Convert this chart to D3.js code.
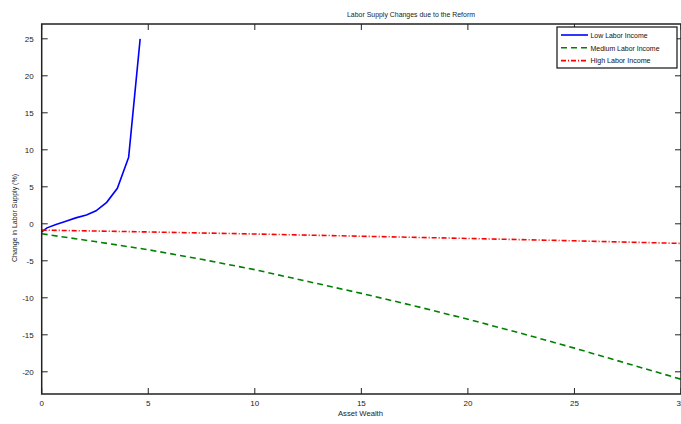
<!DOCTYPE html>
<html>
<head>
<meta charset="utf-8">
<script src="https://cdn.jsdelivr.net/npm/d3@7.9.0/dist/d3.min.js"></script>
<style>
  body { margin: 0; background: #fff; }
  svg { display: block; font-family: "Liberation Sans", Arial, sans-serif; }
</style>
</head>
<body>
<svg id="chart" width="681" height="424"></svg>
<script>
// Data
const lowX = [0, 0.25, 0.67, 1.1, 1.6, 2.1, 2.55, 3.05, 3.55, 4.08, 4.62];
const lowY = [-1.1, -0.55, -0.1, 0.3, 0.8, 1.2, 1.75, 2.9, 4.8, 9.0, 25];

const medX = [0, 2.5, 5, 7.5, 10, 12.5, 15, 17.5, 20, 22.5, 25, 27.5, 30];
const medY = [-1.35, -2.4, -3.5, -4.8, -6.2, -7.8, -9.4, -11.1, -12.9, -14.8, -16.8, -18.9, -21.0];

const highX = [0, 5, 10, 15, 20, 25, 30];
const highY = [-0.85, -1.1, -1.38, -1.68, -1.98, -2.3, -2.65];

const xTicks = [0, 5, 10, 15, 20, 25, 30];
const yTicks = [-20, -15, -10, -5, 0, 5, 10, 15, 20, 25];

const seriesNames = ['Low Labor Income', 'Medium Labor Income', 'High Labor Income'];
const seriesColors = ['#0000ff', '#008000', '#ff0000'];
const seriesDash = [null, '6,4', '5,2,1,2'];

const series = [
  lowX.map((x, i) => [x, lowY[i]]),
  medX.map((x, i) => [x, medY[i]]),
  highX.map((x, i) => [x, highY[i]]),
];

const svg = d3.select('#chart');
const plotLeft = 41.7, plotRight = 681, plotTop = 24, plotBottom = 394;

const x = d3.scaleLinear().domain([0, 30]).range([plotLeft, plotRight]);
const y = d3.scaleLinear().domain([-23, 27]).range([plotBottom, plotTop]);

const axisColor = '#222';
const tickLen = 6;

// lines
const line = d3.line().x(d => x(d[0])).y(d => y(d[1]));
series.forEach((s, i) => {
  svg.append('path')
    .attr('d', line(s))
    .attr('fill', 'none')
    .attr('stroke', seriesColors[i])
    .attr('stroke-width', 1.6)
    .attr('stroke-dasharray', seriesDash[i]);
});

// box
svg.append('rect')
  .attr('x', plotLeft).attr('y', plotTop)
  .attr('width', plotRight - plotLeft).attr('height', plotBottom - plotTop)
  .attr('fill', 'none').attr('stroke', axisColor).attr('stroke-width', 1.5);

// ticks on all four sides (MATLAB style, pointing inward)
const g = svg.append('g').attr('stroke', axisColor).attr('stroke-width', 1);
xTicks.forEach(t => {
  g.append('line').attr('x1', x(t)).attr('x2', x(t)).attr('y1', plotBottom).attr('y2', plotBottom - tickLen);
  g.append('line').attr('x1', x(t)).attr('x2', x(t)).attr('y1', plotTop).attr('y2', plotTop + tickLen);
});
yTicks.forEach(t => {
  g.append('line').attr('x1', plotLeft).attr('x2', plotLeft + tickLen).attr('y1', y(t)).attr('y2', y(t));
  g.append('line').attr('x1', plotRight).attr('x2', plotRight - tickLen).attr('y1', y(t)).attr('y2', y(t));
});

// tick labels
svg.append('g').selectAll('text').data(xTicks).join('text')
  .attr('x', d => x(d)).attr('y', 406)
  .attr('text-anchor', 'middle')
  .attr('font-size', 8).attr('fill', '#222')
  .text(d => d);

svg.append('g').selectAll('text').data(yTicks).join('text')
  .attr('x', plotLeft - 8).attr('y', d => y(d) + 3)
  .attr('text-anchor', 'end')
  .attr('font-size', 8).attr('fill', '#222')
  .text(d => d);

// title and axis labels
svg.append('text')
  .attr('x', 347).attr('y', 17)
  .attr('font-size', 8).attr('fill', '#222')
  .attr('textLength', 128).attr('lengthAdjust', 'spacingAndGlyphs')
  .text('Labor Supply Changes due to the Reform');

svg.append('text')
  .attr('x', 338).attr('y', 416)
  .attr('font-size', 8).attr('fill', '#222')
  .attr('textLength', 45).attr('lengthAdjust', 'spacingAndGlyphs')
  .text('Asset Wealth');

svg.append('text')
  .attr('transform', 'translate(17,262) rotate(-90)')
  .attr('font-size', 8).attr('fill', '#222')
  .attr('textLength', 88).attr('lengthAdjust', 'spacingAndGlyphs')
  .text('Change in Labor Supply (%)');

// legend
const legend = svg.append('g');
legend.append('rect')
  .attr('x', 557).attr('y', 27).attr('width', 120).attr('height', 41)
  .attr('fill', '#fff').attr('stroke', '#111').attr('stroke-width', 1.2);

const legendWidths = [57, 69, 60];
seriesNames.forEach((name, i) => {
  const ly = 35 + i * 12.8;
  legend.append('line')
    .attr('x1', 561).attr('x2', 588).attr('y1', ly).attr('y2', ly)
    .attr('stroke', seriesColors[i]).attr('stroke-width', 1.6)
    .attr('stroke-dasharray', seriesDash[i]);
  legend.append('text')
    .attr('x', 590.5).attr('y', ly + 2.8)
    .attr('font-size', 7.5).attr('fill', '#111')
    .attr('textLength', legendWidths[i]).attr('lengthAdjust', 'spacingAndGlyphs')
    .text(name);
});
</script>
</body>
</html>
